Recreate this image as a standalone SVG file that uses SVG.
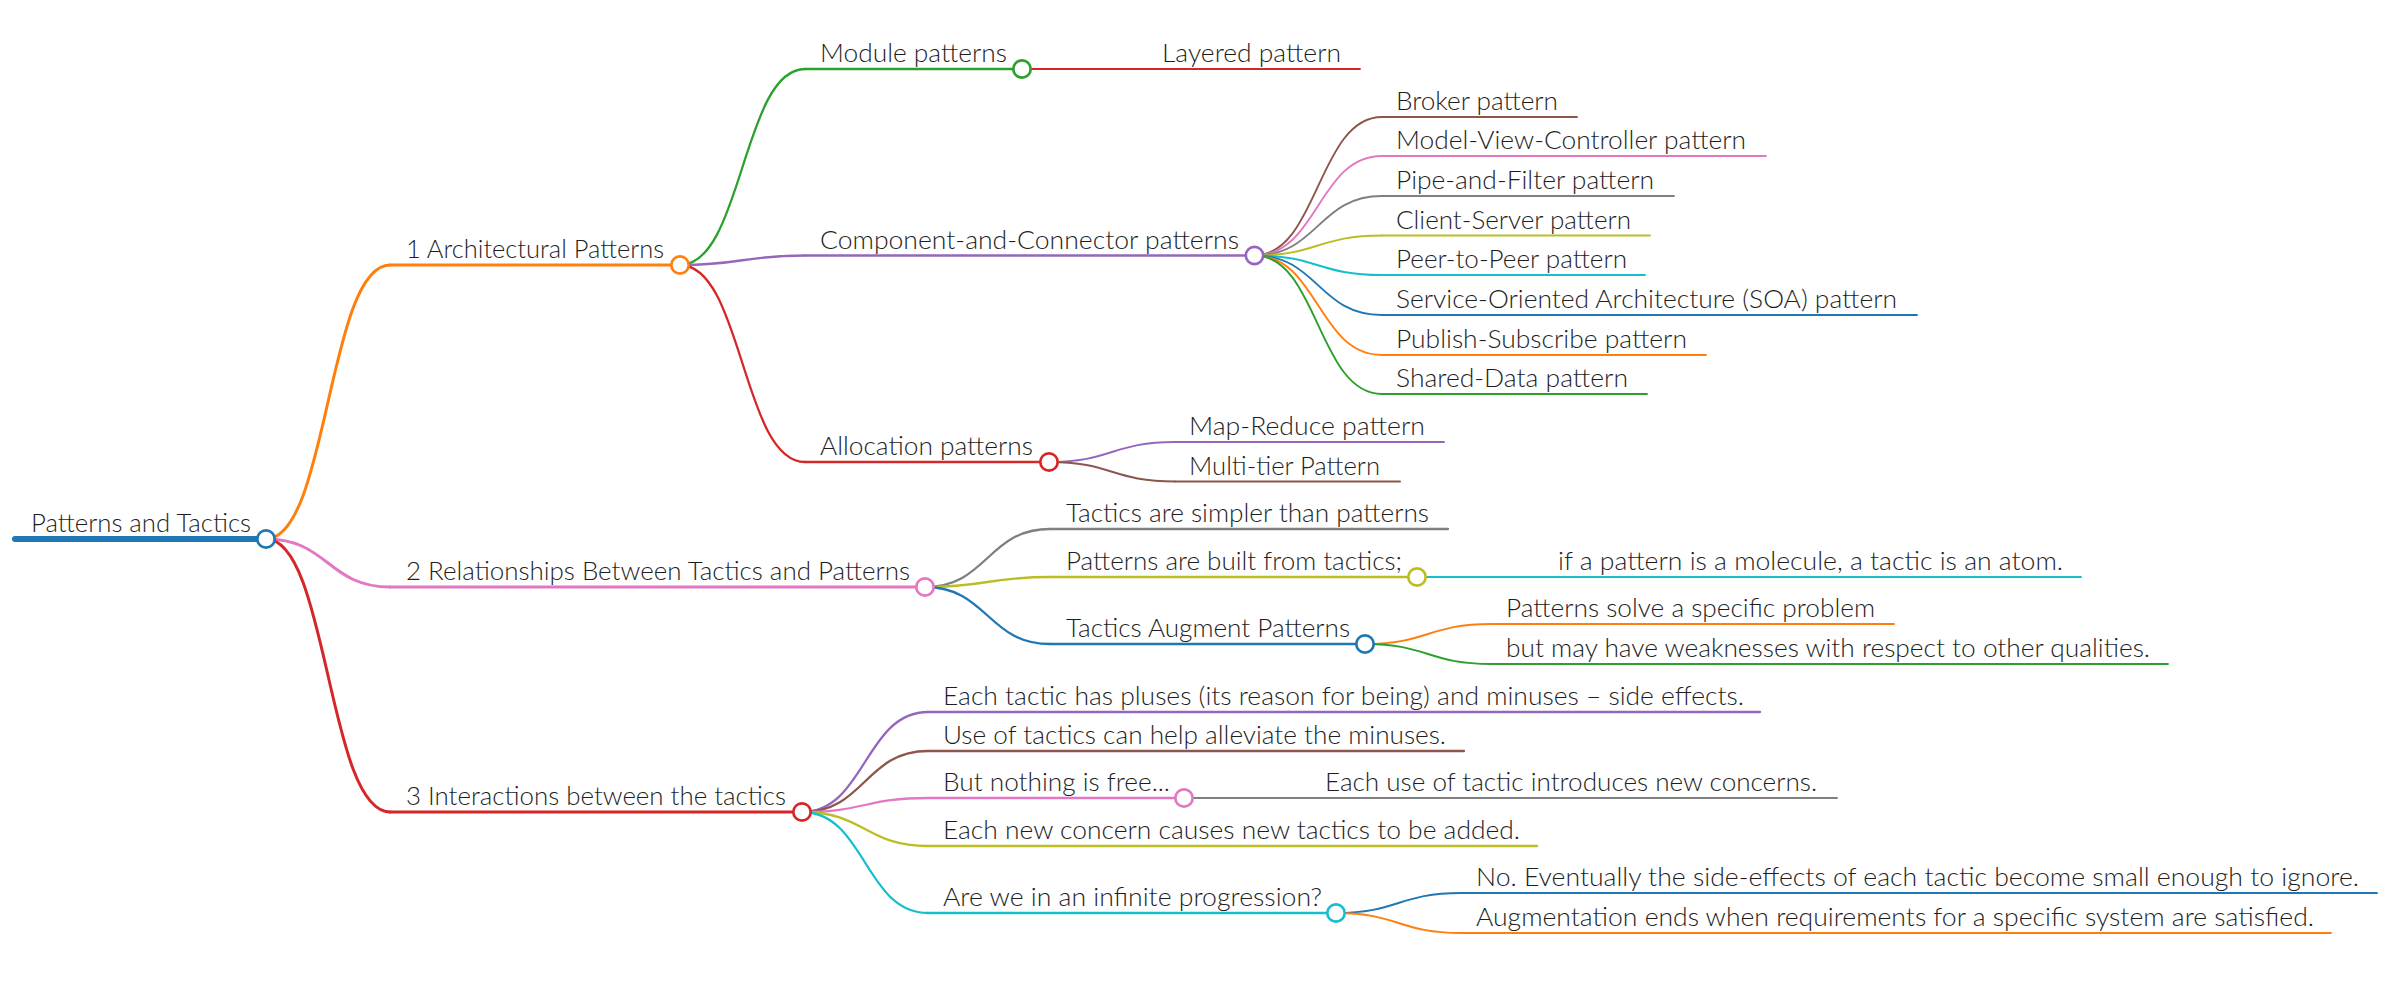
<svg xmlns="http://www.w3.org/2000/svg" width="2403" height="997" viewBox="0 0 2403 997">
<style>
text{font-family:"Lato","Liberation Sans",sans-serif;font-weight:300;font-size:25.5px;fill:#1e1e1e}
.ln{fill:none;stroke-linecap:round}
.d0{stroke-width:6}
.d1{stroke-width:3}
.d2{stroke-width:2.3}
.d3{stroke-width:1.9}
.dot{fill:#fff;stroke-width:2.7}
.blue{stroke:#1f77b4}.orange{stroke:#ff7f0e}.green{stroke:#2ca02c}.red{stroke:#d62728}.purple{stroke:#9467bd}
.brown{stroke:#8c564b}.pink{stroke:#e377c2}.gray{stroke:#7f7f7f}.olive{stroke:#bcbd22}.cyan{stroke:#17becf}
</style>
<rect width="2403" height="997" fill="#fff"/>
<g id="connectors">
<path class="ln d1 orange" d="M266,539 C328,539 328,265 390,265"/>
<path class="ln d1 pink" d="M266,539 C328,539 328,587 390,587"/>
<path class="ln d1 red" d="M266,539 C328,539 328,812 390,812"/>
<path class="ln d2 green" d="M680,265 C742.5,265 742.5,69 805,69"/>
<path class="ln d2 purple" d="M680,265 C742.5,265 742.5,255.5 805,255.5"/>
<path class="ln d2 red" d="M680,265 C742.5,265 742.5,462 805,462"/>
<path class="ln d3 red" d="M1022,69 L1148,69"/>
<path class="ln d3 brown" d="M1254.5,255.5 C1318,255.5 1318,117 1382,117"/>
<path class="ln d3 pink" d="M1254.5,255.5 C1318,255.5 1318,156 1382,156"/>
<path class="ln d3 gray" d="M1254.5,255.5 C1318,255.5 1318,196 1382,196"/>
<path class="ln d3 olive" d="M1254.5,255.5 C1318,255.5 1318,235.5 1382,235.5"/>
<path class="ln d3 cyan" d="M1254.5,255.5 C1318,255.5 1318,275 1382,275"/>
<path class="ln d3 blue" d="M1254.5,255.5 C1318,255.5 1318,315 1382,315"/>
<path class="ln d3 orange" d="M1254.5,255.5 C1318,255.5 1318,355 1382,355"/>
<path class="ln d3 green" d="M1254.5,255.5 C1318,255.5 1318,394 1382,394"/>
<path class="ln d3 purple" d="M1049,462 C1112,462 1112,442 1175,442"/>
<path class="ln d3 brown" d="M1049,462 C1112,462 1112,481.5 1175,481.5"/>
<path class="ln d2 gray" d="M925,587 C987.5,587 987.5,529 1050,529"/>
<path class="ln d2 olive" d="M925,587 C987.5,587 987.5,577 1050,577"/>
<path class="ln d2 blue" d="M925,587 C987.5,587 987.5,644 1050,644"/>
<path class="ln d3 cyan" d="M1417,577 L1542,577"/>
<path class="ln d3 orange" d="M1365,644 C1428,644 1428,624 1491,624"/>
<path class="ln d3 green" d="M1365,644 C1428,644 1428,664 1491,664"/>
<path class="ln d2 purple" d="M802,812 C865,812 865,712 928,712"/>
<path class="ln d2 brown" d="M802,812 C865,812 865,751 928,751"/>
<path class="ln d2 pink" d="M802,812 C865,812 865,798 928,798"/>
<path class="ln d2 olive" d="M802,812 C865,812 865,846 928,846"/>
<path class="ln d2 cyan" d="M802,812 C865,812 865,913 928,913"/>
<path class="ln d3 gray" d="M1184,798 L1310,798"/>
<path class="ln d3 blue" d="M1336,913 C1398.5,913 1398.5,893 1461,893"/>
<path class="ln d3 orange" d="M1336,913 C1398.5,913 1398.5,933 1461,933"/>
</g>
<g id="n-root"><line class="ln d0 blue" x1="15" y1="539" x2="266" y2="539" stroke-linecap="butt"/><text x="31" y="532" textLength="220" lengthAdjust="spacingAndGlyphs">Patterns and Tactics</text><circle class="dot blue" cx="266" cy="539" r="8.7"/></g>
<g id="n-arch"><line class="ln d1 orange" x1="390" y1="265" x2="680" y2="265"/><text x="406" y="258" textLength="258" lengthAdjust="spacingAndGlyphs">1 Architectural Patterns</text><circle class="dot orange" cx="680" cy="265" r="8.7"/></g>
<g id="n-module"><line class="ln d2 green" x1="805" y1="69" x2="1022" y2="69"/><text x="820" y="62" textLength="187" lengthAdjust="spacingAndGlyphs">Module patterns</text><circle class="dot green" cx="1022" cy="69" r="8.7"/></g>
<g id="n-layered"><line class="ln d3 red" x1="1148" y1="69" x2="1360" y2="69"/><text x="1162" y="62" textLength="179" lengthAdjust="spacingAndGlyphs">Layered pattern</text></g>
<g id="n-cc"><line class="ln d2 purple" x1="805" y1="255.5" x2="1254.5" y2="255.5"/><text x="820" y="248.5" textLength="419" lengthAdjust="spacingAndGlyphs">Component-and-Connector patterns</text><circle class="dot purple" cx="1254.5" cy="255.5" r="8.7"/></g>
<g id="n-broker"><line class="ln d3 brown" x1="1382" y1="117" x2="1577" y2="117"/><text x="1396" y="110" textLength="162" lengthAdjust="spacingAndGlyphs">Broker pattern</text></g>
<g id="n-mvc"><line class="ln d3 pink" x1="1382" y1="156" x2="1766" y2="156"/><text x="1396" y="149" textLength="350" lengthAdjust="spacingAndGlyphs">Model-View-Controller pattern</text></g>
<g id="n-pipe"><line class="ln d3 gray" x1="1382" y1="196" x2="1674" y2="196"/><text x="1396" y="189" textLength="258" lengthAdjust="spacingAndGlyphs">Pipe-and-Filter pattern</text></g>
<g id="n-client"><line class="ln d3 olive" x1="1382" y1="235.5" x2="1650" y2="235.5"/><text x="1396" y="228.5" textLength="235" lengthAdjust="spacingAndGlyphs">Client-Server pattern</text></g>
<g id="n-peer"><line class="ln d3 cyan" x1="1382" y1="275" x2="1645" y2="275"/><text x="1396" y="268" textLength="231" lengthAdjust="spacingAndGlyphs">Peer-to-Peer pattern</text></g>
<g id="n-soa"><line class="ln d3 blue" x1="1382" y1="315" x2="1917" y2="315"/><text x="1396" y="308" textLength="501" lengthAdjust="spacingAndGlyphs">Service-Oriented Architecture (SOA) pattern</text></g>
<g id="n-pubsub"><line class="ln d3 orange" x1="1382" y1="355" x2="1706" y2="355"/><text x="1396" y="348" textLength="291" lengthAdjust="spacingAndGlyphs">Publish-Subscribe pattern</text></g>
<g id="n-shared"><line class="ln d3 green" x1="1382" y1="394" x2="1647" y2="394"/><text x="1396" y="387" textLength="232" lengthAdjust="spacingAndGlyphs">Shared-Data pattern</text></g>
<g id="n-alloc"><line class="ln d2 red" x1="805" y1="462" x2="1049" y2="462"/><text x="820" y="455" textLength="213" lengthAdjust="spacingAndGlyphs">Allocation patterns</text><circle class="dot red" cx="1049" cy="462" r="8.7"/></g>
<g id="n-mapreduce"><line class="ln d3 purple" x1="1175" y1="442" x2="1444" y2="442"/><text x="1189" y="435" textLength="236" lengthAdjust="spacingAndGlyphs">Map-Reduce pattern</text></g>
<g id="n-multitier"><line class="ln d3 brown" x1="1175" y1="481.5" x2="1400" y2="481.5"/><text x="1189" y="474.5" textLength="191" lengthAdjust="spacingAndGlyphs">Multi-tier Pattern</text></g>
<g id="n-rel"><line class="ln d1 pink" x1="390" y1="587" x2="925" y2="587"/><text x="406" y="580" textLength="504" lengthAdjust="spacingAndGlyphs">2 Relationships Between Tactics and Patterns</text><circle class="dot pink" cx="925" cy="587" r="8.7"/></g>
<g id="n-simpler"><line class="ln d2 gray" x1="1050" y1="529" x2="1448" y2="529"/><text x="1066" y="522" textLength="363" lengthAdjust="spacingAndGlyphs">Tactics are simpler than patterns</text></g>
<g id="n-built"><line class="ln d2 olive" x1="1050" y1="577" x2="1417" y2="577"/><text x="1066" y="570" textLength="336" lengthAdjust="spacingAndGlyphs">Patterns are built from tactics;</text><circle class="dot olive" cx="1417" cy="577" r="8.7"/></g>
<g id="n-molecule"><line class="ln d3 cyan" x1="1542" y1="577" x2="2081" y2="577"/><text x="1558" y="570" textLength="505" lengthAdjust="spacingAndGlyphs">if a pattern is a molecule, a tactic is an atom.</text></g>
<g id="n-augment"><line class="ln d2 blue" x1="1050" y1="644" x2="1365" y2="644"/><text x="1066" y="637" textLength="284" lengthAdjust="spacingAndGlyphs">Tactics Augment Patterns</text><circle class="dot blue" cx="1365" cy="644" r="8.7"/></g>
<g id="n-solve"><line class="ln d3 orange" x1="1491" y1="624" x2="1894" y2="624"/><text x="1506" y="617" textLength="369" lengthAdjust="spacingAndGlyphs">Patterns solve a specific problem</text></g>
<g id="n-weak"><line class="ln d3 green" x1="1491" y1="664" x2="2168" y2="664"/><text x="1506" y="657" textLength="644" lengthAdjust="spacingAndGlyphs">but may have weaknesses with respect to other qualities.</text></g>
<g id="n-inter"><line class="ln d1 red" x1="390" y1="812" x2="802" y2="812"/><text x="406" y="805" textLength="380" lengthAdjust="spacingAndGlyphs">3 Interactions between the tactics</text><circle class="dot red" cx="802" cy="812" r="8.7"/></g>
<g id="n-pluses"><line class="ln d2 purple" x1="928" y1="712" x2="1760" y2="712"/><text x="943" y="705" textLength="801" lengthAdjust="spacingAndGlyphs">Each tactic has pluses (its reason for being) and minuses – side effects.</text></g>
<g id="n-alleviate"><line class="ln d2 brown" x1="928" y1="751" x2="1464" y2="751"/><text x="943" y="744" textLength="503" lengthAdjust="spacingAndGlyphs">Use of tactics can help alleviate the minuses.</text></g>
<g id="n-free"><line class="ln d2 pink" x1="928" y1="798" x2="1184" y2="798"/><text x="943" y="791" textLength="227" lengthAdjust="spacingAndGlyphs">But nothing is free...</text><circle class="dot pink" cx="1184" cy="798" r="8.7"/></g>
<g id="n-concerns"><line class="ln d3 gray" x1="1310" y1="798" x2="1837" y2="798"/><text x="1325" y="791" textLength="492" lengthAdjust="spacingAndGlyphs">Each use of tactic introduces new concerns.</text></g>
<g id="n-newconcern"><line class="ln d2 olive" x1="928" y1="846" x2="1537" y2="846"/><text x="943" y="839" textLength="577" lengthAdjust="spacingAndGlyphs">Each new concern causes new tactics to be added.</text></g>
<g id="n-infinite"><line class="ln d2 cyan" x1="928" y1="913" x2="1336" y2="913"/><text x="943" y="906" textLength="379" lengthAdjust="spacingAndGlyphs">Are we in an infinite progression?</text><circle class="dot cyan" cx="1336" cy="913" r="8.7"/></g>
<g id="n-no"><line class="ln d3 blue" x1="1461" y1="893" x2="2377" y2="893"/><text x="1476" y="886" textLength="883" lengthAdjust="spacingAndGlyphs">No. Eventually the side-effects of each tactic become small enough to ignore.</text></g>
<g id="n-ends"><line class="ln d3 orange" x1="1461" y1="933" x2="2331" y2="933"/><text x="1476" y="926" textLength="838" lengthAdjust="spacingAndGlyphs">Augmentation ends when requirements for a specific system are satisfied.</text></g>
</svg>
